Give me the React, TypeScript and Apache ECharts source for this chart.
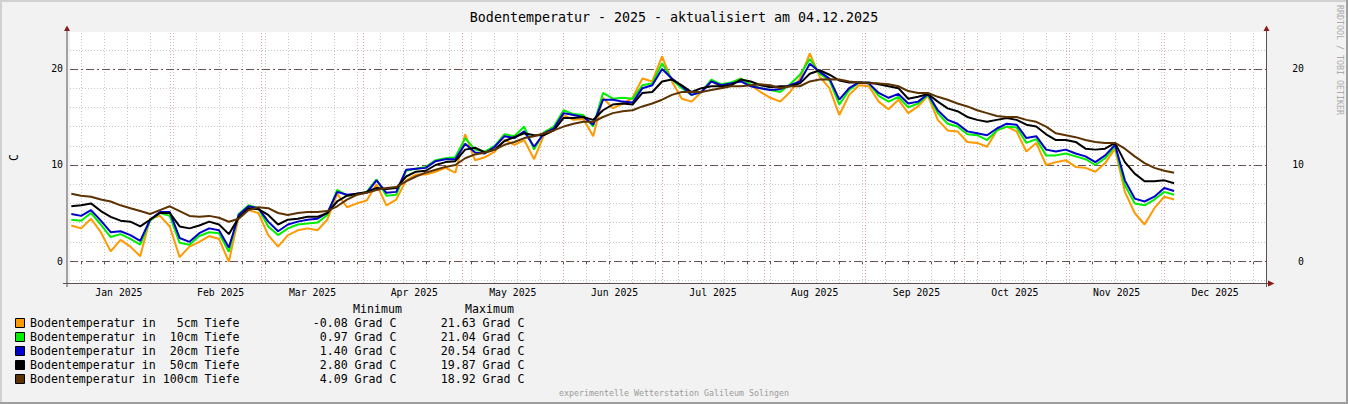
import React, { useEffect, useRef } from 'react';
import * as echarts from 'echarts';

// Sampling grid of the readings: day of year 2025 (0 = 1 Jan), every 3 days
const START_DAY = 1;
const STEP_DAYS = 3;

// Bodentemperatur (°C)
const T5CM = [
  3.7, 3.4, 4.4, 3.0, 1.0, 2.2, 1.5, 0.5, 4.4, 4.7,
  3.6, 0.4, 1.5, 2.0, 2.6, 2.3, -0.08, 4.6, 5.3, 5.0,
  2.7, 1.5, 2.7, 3.2, 3.4, 3.2, 4.3, 7.0, 5.6, 6.0,
  6.3, 8.0, 5.8, 6.4, 8.4, 9.0, 9.0, 9.3, 9.7, 9.2,
  13.2, 10.5, 10.8, 11.4, 12.6, 12.1, 12.6, 10.6, 13.1, 13.6,
  15.2, 14.7, 14.8, 13.0, 17.0, 15.9, 16.4, 17.0, 19.0, 18.7,
  21.3, 18.7, 16.9, 16.6, 17.6, 18.8, 18.0, 18.5, 19.0, 18.3,
  17.6, 17.0, 16.6, 17.6, 19.0, 21.63, 19.2, 18.0, 15.2, 17.3,
  18.3, 18.2, 16.6, 15.8, 16.8, 15.4, 16.1, 17.2, 14.7, 13.6,
  13.5, 12.4, 12.3, 11.9, 13.6, 14.0, 13.5, 11.4, 12.3, 10.0,
  10.3, 10.5, 9.8, 9.7, 9.3, 10.2, 11.7, 7.2, 5.0, 3.8,
  5.5, 6.7, 6.4,
];
const T10CM = [
  4.3, 4.2, 5.0, 3.8, 2.5, 2.8, 2.3, 1.7, 4.2, 5.0,
  4.7, 1.9, 1.7, 2.6, 3.0, 2.9, 0.97, 4.9, 5.8, 5.5,
  3.6, 2.7, 3.4, 3.8, 3.9, 4.0, 4.8, 7.4, 6.8, 6.9,
  7.2, 8.5, 6.8, 6.9, 9.4, 9.6, 9.8, 10.5, 10.7, 10.8,
  12.8, 11.6, 11.4, 12.0, 13.2, 13.0, 14.0, 11.6, 13.4, 14.0,
  15.7, 15.3, 15.2, 14.0, 17.5, 16.9, 17.0, 16.9, 18.3, 18.5,
  20.6, 18.9, 18.0, 17.3, 17.6, 18.9, 18.4, 18.6, 19.0, 18.4,
  18.0, 17.8, 17.6, 18.4, 19.4, 21.04, 19.5, 18.8, 16.3, 17.8,
  18.6, 18.5, 17.2, 16.6, 17.1, 16.0, 16.4, 17.3, 15.4, 14.3,
  14.0, 13.2, 13.1, 12.6, 13.6, 14.0, 13.9, 12.3, 12.7, 11.0,
  11.0, 11.2, 10.9, 10.6, 10.0, 10.7, 12.0, 7.9, 6.0, 5.8,
  6.4, 7.2, 6.9,
];
const T20CM = [
  4.9, 4.7, 5.3, 4.2, 3.0, 3.1, 2.7, 2.1, 4.3, 5.1,
  5.1, 2.4, 2.0, 2.9, 3.4, 3.2, 1.4, 4.8, 5.7, 5.5,
  4.1, 3.1, 3.8, 4.1, 4.3, 4.4, 5.0, 7.2, 6.9, 7.0,
  7.1, 8.4, 7.1, 7.2, 9.5, 9.6, 9.7, 10.4, 10.6, 10.6,
  12.2, 11.3, 11.2, 11.9, 13.0, 12.8, 13.5, 11.9, 13.3, 13.8,
  15.4, 15.2, 15.0, 14.2, 16.8, 16.8, 16.6, 16.5, 18.0, 18.3,
  20.0, 19.0, 18.2, 17.3, 17.6, 18.7, 18.3, 18.5, 18.7, 18.2,
  18.0, 17.8, 17.9, 18.3, 18.7, 20.54, 19.7, 19.0, 16.8, 18.0,
  18.6, 18.5, 17.5, 17.0, 17.4, 16.4, 16.6, 17.4, 15.7, 14.7,
  14.3, 13.5, 13.3, 13.1, 13.8, 14.3, 14.2, 12.8, 13.0, 11.6,
  11.4, 11.6, 11.2, 10.9, 10.3, 11.0, 12.1, 8.4, 6.5, 6.2,
  6.7, 7.6, 7.3,
];
const T50CM = [
  5.7, 5.8, 6.0, 5.2, 4.6, 4.2, 4.1, 3.6, 4.3, 5.0,
  5.0, 3.6, 3.4, 3.7, 4.1, 3.8, 2.8, 4.5, 5.5, 5.4,
  4.8, 3.8, 4.3, 4.4, 4.6, 4.6, 5.0, 6.2, 6.8, 7.0,
  7.2, 7.6, 7.5, 7.6, 8.8, 9.3, 9.4, 10.0, 10.3, 10.4,
  11.6, 11.8, 11.3, 11.6, 12.5, 12.9, 13.3, 13.1, 13.1, 13.6,
  14.9, 14.9, 15.0, 14.7, 15.7, 16.3, 16.4, 16.3, 17.5, 17.6,
  18.7, 18.9, 18.3, 17.6, 18.0, 18.2, 18.2, 18.3, 18.9, 18.7,
  18.3, 18.1, 18.2, 18.2, 18.5, 19.5, 19.87, 19.4, 18.8, 18.6,
  18.6, 18.6, 18.4, 18.2, 18.0, 16.9, 17.1, 17.4, 16.6, 15.9,
  15.6, 15.0, 14.7, 14.5, 14.7, 14.9, 14.7, 14.2, 14.0, 13.2,
  12.6, 12.6, 12.4, 11.7, 11.6, 11.7, 12.3, 10.3, 9.1, 8.3,
  8.3, 8.4, 8.1,
];
const T100CM = [
  7.0, 6.8, 6.7, 6.4, 6.2, 5.8, 5.5, 5.2, 4.9, 5.3,
  5.7, 5.2, 4.7, 4.6, 4.7, 4.5, 4.09, 4.4, 5.3, 5.6,
  5.5, 5.0, 4.8, 5.0, 5.1, 5.1, 5.2, 5.7, 6.4, 6.9,
  7.1, 7.4, 7.6, 7.7, 8.3, 8.8, 9.2, 9.5, 9.8, 10.0,
  10.7, 11.1, 11.3, 11.6, 12.1, 12.4, 12.8, 13.0, 13.3, 13.6,
  14.0, 14.3, 14.5, 14.5, 15.0, 15.4, 15.6, 15.7, 16.1, 16.4,
  16.8, 17.3, 17.6, 17.6, 17.6, 17.8, 18.0, 18.2, 18.2, 18.3,
  18.4, 18.3, 18.0, 18.2, 18.2, 18.7, 18.9, 18.92, 18.9, 18.7,
  18.6, 18.5, 18.5, 18.4, 18.2, 17.7, 17.5, 17.5, 17.1, 16.8,
  16.4, 16.1, 15.7, 15.4, 15.1, 15.0, 15.0, 14.7, 14.5, 14.0,
  13.3, 13.1, 12.9, 12.6, 12.4, 12.3, 12.3, 11.7, 10.9, 10.2,
  9.7, 9.4, 9.2,
];

const SERIES_VALUES = [T5CM, T10CM, T20CM, T50CM, T100CM];
const LEGEND_PREFIX = 'Bodentemperatur in';
const DEPTH_LABELS = ['5cm Tiefe', '10cm Tiefe', '20cm Tiefe', '50cm Tiefe', '100cm Tiefe'];
const LEGEND_MIN = ['-0.08', '0.97', '1.40', '2.80', '4.09'];
const LEGEND_MAX = ['21.63', '21.04', '20.54', '19.87', '18.92'];
const UNIT = 'Grad C';
const COLORS = ['#FF9900', '#00EE00', '#0000CC', '#000000', '#5C3200'];

const MONTH_STARTS = [0, 31, 59, 90, 120, 151, 181, 212, 243, 273, 304, 334];
const MONTH_LABELS = ['Jan 2025', 'Feb 2025', 'Mar 2025', 'Apr 2025', 'May 2025', 'Jun 2025',
  'Jul 2025', 'Aug 2025', 'Sep 2025', 'Oct 2025', 'Nov 2025', 'Dec 2025'];
const Y_LABELS = [0, 10, 20];
const Y_MINOR = [-2, 2, 4, 6, 8, 12, 14, 16, 18, 22];
const FIRST_SUNDAY = 4;

const TITLE = 'Bodentemperatur - 2025 - aktualisiert am 04.12.2025';
const WATERMARK = 'RRDTOOL / TOBI OETIKER';
const FOOTER = 'experimentelle Wetterstation Galileum Solingen';

const MONO = "'DejaVu Sans Mono', monospace";

export default function App() {
  const ref = useRef<HTMLDivElement>(null);

  useEffect(() => {
    if (!ref.current) return;
    const chart = echarts.init(ref.current, undefined, { renderer: 'svg', width: 1348, height: 404 });

    const X_MIN = 0.6;
    const X_MAX = 365;
    const Y_MIN = -2.29;
    const Y_MAX = 23.85;

    const weekDays: number[] = [];
    for (let d = FIRST_SUNDAY; d < X_MAX; d += 7) weekDays.push(d);
    const monthMid = MONTH_STARTS.map((d) => d + 15.5);

    const gridLines: any[] = [];
    weekDays.forEach((d) => gridLines.push({ xAxis: d, lineStyle: { color: '#c8c8c8', width: 1, type: [1, 2] } }));
    MONTH_STARTS.filter((d) => d > X_MIN).forEach((d) =>
      gridLines.push({ xAxis: d, lineStyle: { color: '#e6a0a0', width: 1, type: [1, 2] } }));
    Y_MINOR.forEach((v) => gridLines.push({ yAxis: v, lineStyle: { color: '#c8c8c8', width: 1, type: [1, 2] } }));
    Y_LABELS.forEach((v) => gridLines.push({ yAxis: v, lineStyle: { color: '#6a5252', width: 1, type: [8, 3, 2, 3] } }));

    const dataSeries = SERIES_VALUES.map((vals, k) => ({
      type: 'line',
      name: `${LEGEND_PREFIX} ${DEPTH_LABELS[k]}`,
      data: vals.map((v, i) => [START_DAY + STEP_DAYS * i, v]),
      showSymbol: false,
      symbol: 'none',
      z: 3 + k,
      lineStyle: { color: COLORS[k], width: 2 },
      itemStyle: { color: COLORS[k] },
      silent: true,
    }));

    const axisColor = '#5b4f4f';
    const arrowColor = '#8b1a1a';
    const legendRows = [323, 337, 351, 365, 379];

    const graphic: any[] = [
      // frame
      { type: 'rect', shape: { x: 0, y: 0, width: 1348, height: 2 }, style: { fill: '#d0d0d0' } },
      { type: 'rect', shape: { x: 0, y: 0, width: 2, height: 404 }, style: { fill: '#d0d0d0' } },
      { type: 'rect', shape: { x: 0, y: 402, width: 1348, height: 2 }, style: { fill: '#9e9e9e' } },
      { type: 'rect', shape: { x: 1346, y: 0, width: 2, height: 404 }, style: { fill: '#9e9e9e' } },
      // axes
      { type: 'line', shape: { x1: 67, y1: 27, x2: 67, y2: 287 }, style: { stroke: axisColor, lineWidth: 1 }, z: 20 },
      { type: 'line', shape: { x1: 1266.5, y1: 27, x2: 1266.5, y2: 287 }, style: { stroke: axisColor, lineWidth: 1 }, z: 20 },
      { type: 'line', shape: { x1: 63, y1: 283.5, x2: 1270, y2: 283.5 }, style: { stroke: axisColor, lineWidth: 1 }, z: 20 },
      { type: 'polygon', shape: { points: [[64, 31], [70, 31], [67, 25.5]] }, style: { fill: arrowColor }, z: 21 },
      { type: 'polygon', shape: { points: [[1263.5, 31], [1269.5, 31], [1266.5, 25.5]] }, style: { fill: arrowColor }, z: 21 },
      { type: 'polygon', shape: { points: [[1268, 280.5], [1268, 286.5], [1274.5, 283.5]] }, style: { fill: arrowColor }, z: 21 },
      // watermark
      {
        type: 'text', x: 1340, y: 5, rotation: -Math.PI / 2,
        style: { text: WATERMARK, fontSize: 8.3, fontFamily: MONO, fill: '#aaaaaa', textAlign: 'left', textVerticalAlign: 'middle' },
      },
      // footer
      {
        type: 'text', x: 674, y: 393,
        style: { text: FOOTER, fontSize: 8.3, fontFamily: MONO, fill: '#9a9a9a', textAlign: 'center', textVerticalAlign: 'middle' },
      },
      // legend header
      {
        type: 'text', x: 353, y: 309,
        style: { text: 'Minimum', fontSize: 11.6, fontFamily: MONO, fill: '#000', textAlign: 'left', textVerticalAlign: 'middle' },
      },
      {
        type: 'text', x: 465, y: 309,
        style: { text: 'Maximum', fontSize: 11.6, fontFamily: MONO, fill: '#000', textAlign: 'left', textVerticalAlign: 'middle' },
      },
    ];

    legendRows.forEach((yy, k) => {
      graphic.push({
        type: 'rect', shape: { x: 15.5, y: yy - 4.5, width: 9, height: 9 },
        style: { fill: COLORS[k], stroke: '#000', lineWidth: 1 },
      });
      graphic.push({
        type: 'text', x: 30, y: yy,
        style: { text: LEGEND_PREFIX, fontSize: 11.6, fontFamily: MONO, fill: '#000', textAlign: 'left', textVerticalAlign: 'middle' },
      });
      graphic.push({
        type: 'text', x: 239.5, y: yy,
        style: { text: DEPTH_LABELS[k], fontSize: 11.6, fontFamily: MONO, fill: '#000', textAlign: 'right', textVerticalAlign: 'middle' },
      });
      graphic.push({
        type: 'text', x: 396.5, y: yy,
        style: { text: `${LEGEND_MIN[k]} ${UNIT}`, fontSize: 11.6, fontFamily: MONO, fill: '#000', textAlign: 'right', textVerticalAlign: 'middle' },
      });
      graphic.push({
        type: 'text', x: 524.5, y: yy,
        style: { text: `${LEGEND_MAX[k]} ${UNIT}`, fontSize: 11.6, fontFamily: MONO, fill: '#000', textAlign: 'right', textVerticalAlign: 'middle' },
      });
    });

    const yAxisCommon = {
      type: 'value',
      min: Y_MIN,
      max: Y_MAX,
      axisLine: { show: false },
      axisTick: { show: false },
      splitLine: { show: false },
    };

    const option: any = {
      animation: false,
      backgroundColor: '#F2F2F2',
      title: {
        text: TITLE,
        left: 'center',
        top: 6,
        textStyle: { fontFamily: MONO, fontSize: 13.3, fontWeight: 'normal', color: '#000' },
      },
      grid: {
        left: 67, right: 82, top: 32, bottom: 121,
        show: true, backgroundColor: '#ffffff', borderWidth: 0,
        containLabel: false,
      },
      xAxis: {
        type: 'value',
        min: X_MIN,
        max: X_MAX,
        axisLine: { show: false },
        splitLine: { show: false },
        axisTick: { show: true, customValues: weekDays, length: 3, lineStyle: { color: axisColor } },
        axisLabel: {
          customValues: monthMid,
          formatter: (v: number) => {
            const idx = monthMid.findIndex((m) => Math.abs(m - v) < 0.01);
            return idx >= 0 ? MONTH_LABELS[idx] : '';
          },
          fontFamily: MONO, fontSize: 9.8, color: '#000', margin: 4,
          showMinLabel: true, showMaxLabel: true,
        },
      },
      yAxis: [
        {
          ...yAxisCommon,
          position: 'left',
          axisLabel: { customValues: Y_LABELS, fontFamily: MONO, fontSize: 9.8, color: '#000', margin: 7 },
          name: 'C',
          nameLocation: 'middle',
          nameGap: 50,
          nameRotate: 90,
          nameTextStyle: { fontFamily: MONO, fontSize: 11.6, color: '#000' },
        },
        {
          ...yAxisCommon,
          position: 'right',
          axisLabel: { customValues: Y_LABELS, fontFamily: MONO, fontSize: 9.8, color: '#000', margin: 38, align: 'right' },
        },
      ],
      series: [
        {
          type: 'line',
          name: 'grid',
          data: [],
          z: 1,
          silent: true,
          markLine: {
            silent: true,
            z: 1,
            symbol: ['none', 'none'],
            label: { show: false },
            emphasis: { disabled: true },
            animation: false,
            data: gridLines,
          },
        },
        ...dataSeries,
      ],
      graphic,
    };

    chart.setOption(option);
    return () => chart.dispose();
  }, []);

  return <div ref={ref} style={{ position: 'absolute', left: 0, top: 0, width: 1348, height: 404 }} />;
}
